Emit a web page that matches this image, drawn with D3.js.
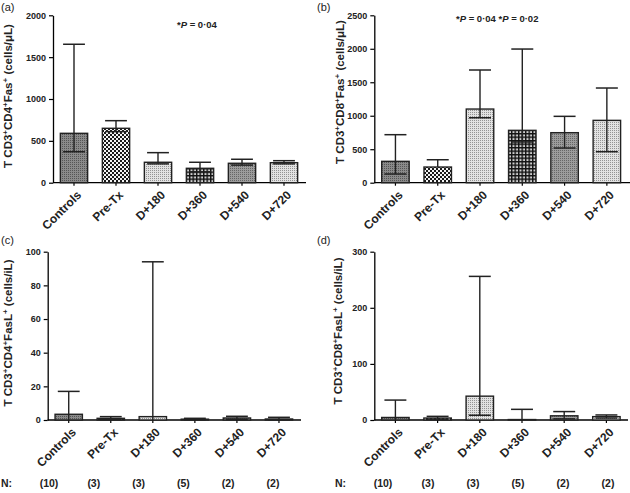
<!DOCTYPE html>
<html><head><meta charset="utf-8">
<script src="https://cdn.jsdelivr.net/npm/d3@7/dist/d3.min.js"></script>
<style>
body{margin:0;background:#fff;}
svg{display:block;font-family:"Liberation Sans",Arial,sans-serif;}
</style></head>
<body><svg id="c" width="630" height="493"></svg>
<script>
const categories = ["Controls","Pre-Tx","D+180","D+360","D+540","D+720"];
const nCounts = ["(10)","(3)","(3)","(5)","(2)","(2)"];

// (a) CD4+Fas+
const aMean  = [590, 650, 244, 172, 232, 239];
const aUpper = [1654, 741, 359, 244, 280, 263];
const aLower = [370, 610, 225, 130, 210, 225];
const aTicks = [0, 500, 1000, 1500, 2000];

// (b) CD8+Fas+
const bMean  = [319, 234, 1100, 782, 747, 931];
const bUpper = [717, 343, 1683, 1996, 991, 1414];
const bLower = [130, 234, 970, 608, 518, 463];
const bTicks = [0, 500, 1000, 1500, 2000, 2500];

// (c) CD4+FasL+
const cMean  = [3.4, 1.0, 2.0, 0.5, 1.2, 0.6];
const cUpper = [17, 2.0, 94, 1.0, 2.2, 1.6];
const cLower = [0, 0.3, 0, 0.2, 0.4, 0.2];
const cTicks = [0, 20, 40, 60, 80, 100];

// (d) CD8+FasL+
const dMean  = [4.5, 3.5, 42.5, 0.8, 7.5, 6.0];
const dUpper = [35.5, 6.5, 256, 19, 15, 9];
const dLower = [0, 1.5, 8.5, 0, 2, 3.5];
const dTicks = [0, 100, 200, 300];

const svg = d3.select("#c");
const defs = svg.append("defs");

function pat(id, w, h, build){
  const p = defs.append("pattern").attr("id", id).attr("patternUnits","userSpaceOnUse")
    .attr("width", w).attr("height", h);
  build(p);
}
pat("pCtrl", 2, 2, p => {
  p.append("rect").attr("width",2).attr("height",2).attr("fill","#8a8a8a");
  p.append("rect").attr("width",1).attr("height",1).attr("fill","#555");
});
pat("pPre", 4, 4, p => {
  p.append("rect").attr("width",4).attr("height",4).attr("fill","#f4f4f4");
  p.append("rect").attr("width",2).attr("height",2).attr("fill","#1a1a1a");
  p.append("rect").attr("x",2).attr("y",2).attr("width",2).attr("height",2).attr("fill","#1a1a1a");
});
pat("pLight", 2, 2, p => {
  p.append("rect").attr("width",2).attr("height",2).attr("fill","#e2e2e2");
  p.append("rect").attr("width",1).attr("height",1).attr("fill","#939393");
});
pat("pGrid", 3.5, 3.5, p => {
  p.append("rect").attr("width",3.5).attr("height",3.5).attr("fill","#cfcfcf");
  p.append("rect").attr("width",3.5).attr("height",1.4).attr("fill","#111");
  p.append("rect").attr("width",1.4).attr("height",3.5).attr("fill","#111");
});
pat("pMid", 2, 2, p => {
  p.append("rect").attr("width",2).attr("height",2).attr("fill","#9c9c9c");
  p.append("rect").attr("width",1).attr("height",1).attr("fill","#666");
});
const fills = ["url(#pCtrl)","url(#pPre)","url(#pLight)","url(#pGrid)","url(#pMid)","url(#pLight)"];

function panel(o){
  const g = svg.append("g");
  const x = d3.scaleBand().domain(categories).range([o.x0, o.x1])
    .paddingInner(0.35).paddingOuter(0.175);
  const y = d3.scaleLinear().domain([0, o.max]).range([o.y0, o.yTop]);
  const bw = x.bandwidth();

  const ya = g.append("g").attr("transform", `translate(${o.x0},0)`)
    .call(d3.axisLeft(y).tickValues(o.ticks).tickFormat(d3.format("d"))
      .tickSize(4).tickSizeOuter(0).tickPadding(3));
  ya.select(".domain").attr("stroke","#000").attr("stroke-width",1.3);
  ya.selectAll(".tick line").attr("stroke","#000").attr("stroke-width",1.2);
  ya.selectAll("text").attr("font-size",9).attr("font-weight","bold").attr("fill","#222")
    .attr("font-family","Liberation Sans, Arial, sans-serif");

  const xa = g.append("g").attr("transform", `translate(0,${o.y0})`)
    .call(d3.axisBottom(x).tickSize(3).tickSizeOuter(0).tickFormat(""));
  xa.select(".domain").attr("stroke","#000").attr("stroke-width",1.3)
    .attr("d", `M${o.x0},0H${o.xEnd}`);
  xa.selectAll(".tick line").attr("stroke","#000").attr("stroke-width",1.2);

  g.selectAll(".xl").data(categories).enter().append("text")
    .attr("transform", d => `translate(${x(d)+bw/2+5},${o.y0+10}) rotate(-45)`)
    .attr("text-anchor","end").attr("dy","0.35em")
    .attr("font-size",12).attr("font-weight","bold").attr("fill","#222")
    .text(d => d);

  g.selectAll(".bar").data(categories).enter().append("rect")
    .attr("x", d => x(d)).attr("width", bw)
    .attr("y", (d,i) => y(o.mean[i]))
    .attr("height", (d,i) => y(0) - y(o.mean[i]))
    .attr("fill", (d,i) => fills[i])
    .attr("stroke","#222").attr("stroke-width",1.4);

  const cw = bw*0.8;
  categories.forEach((d,i) => {
    const cx = x(d) + bw/2;
    g.append("line").attr("x1",cx).attr("x2",cx)
      .attr("y1", y(o.lower[i])).attr("y2", y(o.upper[i]))
      .attr("stroke","#222").attr("stroke-width",1.4);
    g.append("line").attr("x1",cx-cw/2).attr("x2",cx+cw/2)
      .attr("y1", y(o.upper[i])).attr("y2", y(o.upper[i]))
      .attr("stroke","#222").attr("stroke-width",1.5);
    if (o.lower[i] > 0 && o.lower[i] < o.mean[i]) {
      g.append("line").attr("x1",cx-cw/2).attr("x2",cx+cw/2)
        .attr("y1", y(o.lower[i])).attr("y2", y(o.lower[i]))
        .attr("stroke","#222").attr("stroke-width",1.5);
    }
  });

  const t = g.append("text")
    .attr("transform", `translate(${o.tx},${o.ty}) rotate(-90)`)
    .attr("text-anchor","middle").attr("dy","0.35em")
    .attr("font-size",11.5).attr("font-weight","bold").attr("fill","#222");
  o.title.forEach(seg => {
    const ts = t.append("tspan").text(seg[0]);
    if (seg[1]) ts.attr("baseline-shift","super").attr("font-size",8);
  });

  svg.append("text").attr("x", o.lx).attr("y", o.ly)
    .attr("font-size",11).attr("fill","#222").text(o.label);
}

panel({x0:53, x1:305, xEnd:306, y0:182.7, yTop:15.3, max:2000, ticks:aTicks,
  mean:aMean, upper:aUpper, lower:aLower, tx:8, ty:96, lx:1, ly:11, label:"(a)",
  title:[["T CD3"],["+",1],["CD4"],["+",1],["Fas"],["+",1],[" (cells/\u03BCL)"]]});
panel({x0:374.3, x1:628, xEnd:630, y0:182.7, yTop:15.3, max:2500, ticks:bTicks,
  mean:bMean, upper:bUpper, lower:bLower, tx:340, ty:92, lx:317, ly:11, label:"(b)",
  title:[["T CD3"],["+",1],["CD8"],["+",1],["Fas"],["+",1],[" (cells/\u03BCL)"]]});
panel({x0:47.7, x1:300, xEnd:301, y0:420, yTop:251.7, max:100, ticks:cTicks,
  mean:cMean, upper:cUpper, lower:cLower, tx:8, ty:333, lx:1, ly:244, label:"(c)",
  title:[["T CD3"],["+",1],["CD4"],["+",1],["FasL"],["+",1],[" (cells/iL)"]]});
panel({x0:374.3, x1:627.5, xEnd:628, y0:420, yTop:251.7, max:300, ticks:dTicks,
  mean:dMean, upper:dUpper, lower:dLower, tx:338, ty:331, lx:317, ly:244, label:"(d)",
  title:[["T CD3"],["+",1],["CD8"],["+",1],["FasL"],["+",1],[" (cells/iL)"]]});

function pText(xp, yp, parts){
  const t = svg.append("text").attr("x",xp).attr("y",yp).attr("font-size",9.5)
    .attr("font-weight","bold").attr("fill","#222");
  parts.forEach(p => {
    const ts = t.append("tspan").text(p[0]);
    if (p[1]) ts.attr("font-style","italic");
  });
}
pText(177, 28, [["*"],["P",1],[" = 0\u00B704"]]);
pText(456, 22, [["*"],["P",1],[" = 0\u00B704 *"],["P",1],[" = 0\u00B702"]]);

function nRow(x0, x1, xN){
  const sx = d3.scalePoint().domain(d3.range(nCounts.length)).range([x0, x1]);
  svg.append("text").attr("x", xN).attr("y", 487).attr("font-size",10.5)
    .attr("font-weight","bold").attr("fill","#222").text("N:");
  svg.selectAll(null).data(nCounts).enter().append("text")
    .attr("x", (d,i) => sx(i)).attr("y", 487).attr("text-anchor","middle")
    .attr("font-size",10.5).attr("font-weight","bold").attr("fill","#222").text(d => d);
}
nRow(49, 273, 1);
nRow(383, 608, 335);
</script></body></html>
